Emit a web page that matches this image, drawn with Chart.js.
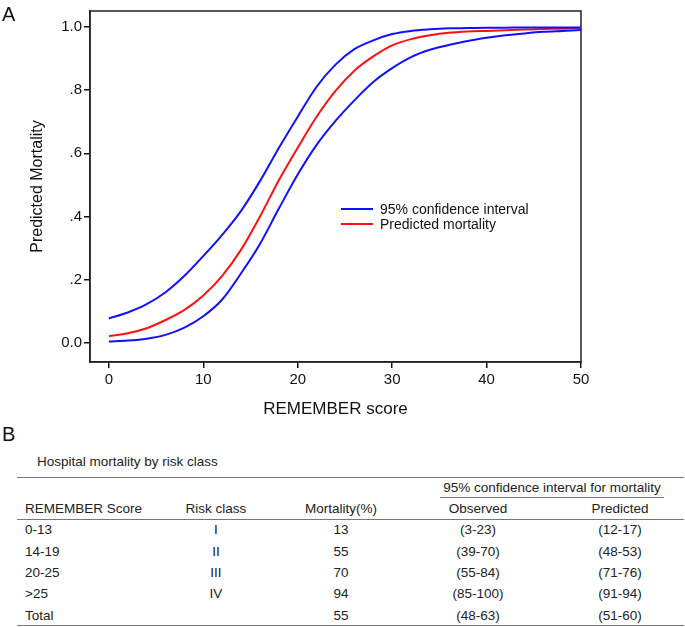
<!DOCTYPE html>
<html>
<head>
<meta charset="utf-8">
<script src="https://cdn.jsdelivr.net/npm/chart.js@4.4.0/dist/chart.umd.min.js"></script>
<style>
  body { margin: 0; background: #fff; font-family: "Liberation Sans", Arial, sans-serif; color: #222; }
  #wrap { position: relative; width: 685px; height: 627px; overflow: hidden; background: #fff; }
  #chartBox { position: absolute; left: 0; top: 0; width: 685px; height: 420px; }
  .panel { position: absolute; font-size: 20px; color: #111; line-height: 1; }
  #caption { position: absolute; left: 37px; top: 453px; font-size: 13.5px; line-height: 17px; }
  #tbl { position: absolute; left: 17px; top: 477px; width: 667px; border-collapse: collapse; table-layout: fixed; font-size: 13.5px; }
  #tbl td { padding: 0; white-space: nowrap; text-align: center; }
  #tbl td.first { text-align: left; padding-left: 8px; }
  #tbl tr.top { height: 20px; border-top: 1px solid #777; }
  #tbl tr.head { height: 21px; border-bottom: 1px solid #777; }
  #tbl tr.row { height: 21.4px; }
  #tbl tr.last { border-bottom: 1px solid #777; }
  .ci { margin: 0 20px 0 40px; border-bottom: 1px solid #777; line-height: 19px; }
</style>
</head>
<body>
<div id="wrap">
  <div id="chartBox"><canvas id="curve" width="685" height="420"></canvas></div>
  <div class="panel" style="left:2px; top:4px;">A</div>
  <div class="panel" style="left:2px; top:424px;">B</div>
  <div id="caption">Hospital mortality by risk class</div>
  <table id="tbl">
    <colgroup>
      <col style="width:133px"><col style="width:132px"><col style="width:118px"><col style="width:156px"><col style="width:128px">
    </colgroup>
    <tbody id="tbody"></tbody>
  </table>
</div>
<script>
// REMEMBER score vs predicted mortality
const scores = [0, 2, 4, 6, 8, 10, 12, 14, 16, 18, 20, 22, 24, 26, 28, 30, 32, 34, 36, 38, 40, 42, 44, 46, 48, 50];
const upperCI = [0.077, 0.096, 0.122, 0.160, 0.212, 0.275, 0.342, 0.418, 0.512, 0.617, 0.716, 0.811, 0.881, 0.930, 0.958, 0.978, 0.988, 0.993, 0.996, 0.997, 0.998, 0.998, 0.999, 0.999, 0.999, 0.999];
const predicted = [0.021, 0.030, 0.046, 0.072, 0.104, 0.150, 0.212, 0.295, 0.400, 0.515, 0.618, 0.716, 0.798, 0.862, 0.907, 0.942, 0.962, 0.974, 0.982, 0.986, 0.988, 0.990, 0.992, 0.994, 0.995, 0.997];
const lowerCI = [0.004, 0.007, 0.013, 0.025, 0.048, 0.084, 0.137, 0.220, 0.313, 0.425, 0.533, 0.627, 0.703, 0.768, 0.826, 0.870, 0.905, 0.928, 0.943, 0.956, 0.966, 0.974, 0.980, 0.985, 0.988, 0.991];

const xTicks = [0, 10, 20, 30, 40, 50];
const yTicks = [0, 0.2, 0.4, 0.6, 0.8, 1.0];
const yTickLabels = ['0.0', '.2', '.4', '.6', '.8', '1.0'];

// Table B
const tableHead = ['REMEMBER Score', 'Risk class', 'Mortality(%)', 'Observed', 'Predicted'];
const scoreRanges = ['0-13', '14-19', '20-25', '>25', 'Total'];
const riskClasses = ['I', 'II', 'III', 'IV', ''];
const mortality = [13, 55, 70, 94, 55];
const observedCI = ['(3-23)', '(39-70)', '(55-84)', '(85-100)', '(48-63)'];
const predictedCI = ['(12-17)', '(48-53)', '(71-76)', '(91-94)', '(51-60)'];

const BLUE = '#1010ff';
const RED = '#ff1010';
const FONT = '"Liberation Sans", Arial, sans-serif';

function pts(arr) {
    return scores.map((x, i) => ({ x: x, y: arr[i] }));
}

// box around the plot + legend inside
const framePlugin = {
    id: 'frame',
    beforeDatasetsDraw(chart) {
        const a = chart.chartArea, ctx = chart.ctx;
        ctx.save();
        ctx.strokeStyle = '#222';
        ctx.lineWidth = 1.5;
        ctx.strokeRect(a.left, a.top, a.right - a.left, a.bottom - a.top);
        ctx.restore();
    },
    afterDraw(chart) {
        const ctx = chart.ctx;
        const items = chart.data.datasets.filter(d => d.inLegend);
        ctx.save();
        ctx.font = '14px ' + FONT;
        ctx.textBaseline = 'middle';
        items.forEach((d, i) => {
            const y = 209 + i * 15;
            ctx.strokeStyle = d.borderColor;
            ctx.lineWidth = 2;
            ctx.beginPath();
            ctx.moveTo(341, y);
            ctx.lineTo(373, y);
            ctx.stroke();
            ctx.fillStyle = '#111';
            ctx.fillText(d.label, 380, y + 1);
        });
        ctx.restore();
    }
};

Chart.defaults.font.family = FONT;
Chart.defaults.color = '#111';

const curveChart = new Chart(document.getElementById('curve'), {
    type: 'line',
    data: {
        datasets: [
            { label: '95% confidence interval', data: pts(upperCI), borderColor: BLUE, inLegend: true },
            { label: 'Predicted mortality', data: pts(predicted), borderColor: RED, inLegend: true },
            { label: '95% confidence interval', data: pts(lowerCI), borderColor: BLUE, inLegend: false }
        ]
    },
    options: {
        responsive: false,
        animation: false,
        datasets: { line: { borderWidth: 2, pointRadius: 0, cubicInterpolationMode: 'monotone', fill: false } },
        layout: { padding: { left: 0, top: 9, right: 104, bottom: 0 } },
        plugins: { legend: { display: false }, tooltip: { enabled: false } },
        scales: {
            x: {
                type: 'linear',
                min: -2,
                max: 50,
                afterBuildTicks: s => { s.ticks = xTicks.map(v => ({ value: v })); },
                afterFit: s => { s.height = 58; },
                ticks: { font: { size: 15 }, padding: 3, maxRotation: 0 },
                grid: { drawOnChartArea: false, tickLength: 6, color: '#111', lineWidth: 1.5 },
                border: { display: true, color: '#222', width: 1.5 },
                title: { display: true, text: 'REMEMBER score', font: { size: 17, lineHeight: 1.2 }, padding: 0 }
            },
            y: {
                type: 'linear',
                min: -0.061,
                max: 1.051,
                afterBuildTicks: s => { s.ticks = yTicks.map(v => ({ value: v })); },
                afterFit: s => { s.width = 90; },
                ticks: {
                    font: { size: 15 },
                    padding: 2,
                    callback: v => {
                        const i = yTicks.indexOf(v);
                        return i >= 0 ? yTickLabels[i] : '';
                    }
                },
                grid: { drawOnChartArea: false, tickLength: 6, color: '#111', lineWidth: 1.5 },
                border: { display: true, color: '#222', width: 1.5 },
                title: { display: true, text: 'Predicted Mortality', font: { size: 16, lineHeight: 1.2 }, padding: { top: 28 } }
            }
        }
    },
    plugins: [framePlugin]
});

// build table B
const tbody = document.getElementById('tbody');
let html = '<tr class="top"><td></td><td></td><td></td><td colspan="2"><div class="ci">95% confidence interval for mortality</div></td></tr>';
html += '<tr class="head">' + tableHead.map((h, i) => '<td' + (i === 0 ? ' class="first"' : '') + '>' + h + '</td>').join('') + '</tr>';
scoreRanges.forEach((r, i) => {
    const cls = i === scoreRanges.length - 1 ? 'row last' : 'row';
    html += '<tr class="' + cls + '"><td class="first">' + r.replace('>', '&gt;') + '</td><td>' + riskClasses[i] + '</td><td>' + mortality[i] + '</td><td>' + observedCI[i] + '</td><td>' + predictedCI[i] + '</td></tr>';
});
tbody.innerHTML = html;
</script>
</body>
</html>
